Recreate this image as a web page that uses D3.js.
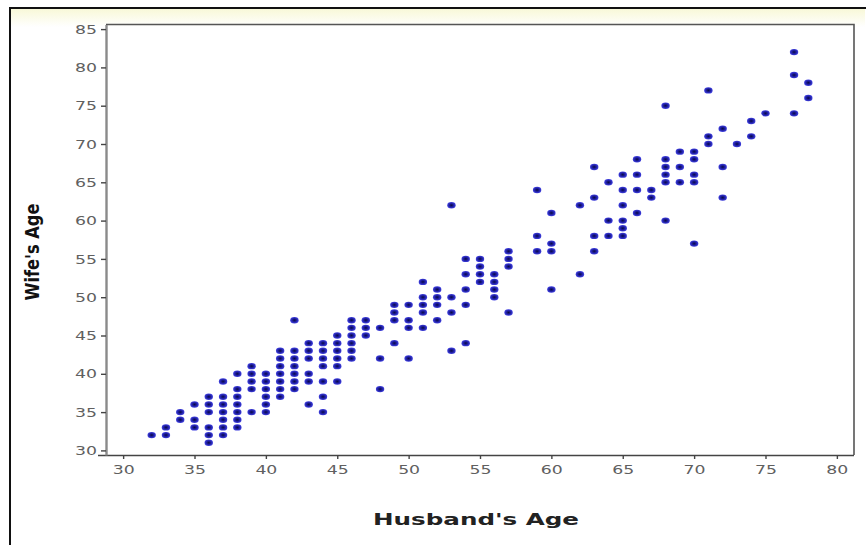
<!DOCTYPE html>
<html>
<head>
<meta charset="utf-8">
<script src="https://cdn.jsdelivr.net/npm/d3@7"></script>
<style>
  html, body { margin: 0; padding: 0; background: #ffffff; }
  svg { display: block; }
</style>
</head>
<body>
<svg id="chart" width="868" height="545"></svg>
<script>
// ---- data ----
const husbandAge = [
  32,
  33, 33,
  34, 34,
  35, 35, 35,
  36, 36, 36, 36, 36, 36,
  37, 37, 37, 37, 37, 37, 37,
  38, 38, 38, 38, 38, 38, 38,
  39, 39, 39, 39, 39,
  40, 40, 40, 40, 40, 40,
  41, 41, 41, 41, 41, 41, 41,
  42, 42, 42, 42, 42, 42, 42,
  43, 43, 43, 43, 43, 43,
  44, 44, 44, 44, 44, 44, 44,
  45, 45, 45, 45, 45, 45,
  46, 46, 46, 46, 46, 46,
  47, 47, 47,
  48, 48, 48,
  49, 49, 49, 49,
  50, 50, 50, 50,
  51, 51, 51, 51, 51,
  52, 52, 52, 52,
  53, 53, 53, 53,
  54, 54, 54, 54, 54,
  55, 55, 55, 55,
  56, 56, 56, 56,
  57, 57, 57, 57,
  59, 59, 59,
  60, 60, 60, 60,
  62, 62,
  63, 63, 63, 63,
  64, 64, 64,
  65, 65, 65, 65, 65, 65,
  66, 66, 66, 66,
  67, 67,
  68, 68, 68, 68, 68, 68,
  69, 69, 69,
  70, 70, 70, 70, 70,
  71, 71, 71,
  72, 72, 72,
  73,
  74, 74,
  75,
  77, 77, 77,
  78, 78
];
const wifeAge = [
  32,
  33, 32,
  35, 34,
  36, 34, 33,
  37, 36, 35, 33, 32, 31,
  39, 37, 36, 35, 34, 33, 32,
  40, 38, 37, 36, 35, 34, 33,
  41, 40, 39, 38, 35,
  40, 39, 38, 37, 36, 35,
  43, 42, 41, 40, 39, 38, 37,
  47, 43, 42, 41, 40, 39, 38,
  44, 43, 42, 40, 39, 36,
  44, 43, 42, 41, 39, 37, 35,
  45, 44, 43, 42, 41, 39,
  47, 46, 45, 44, 43, 42,
  47, 46, 45,
  46, 42, 38,
  49, 48, 47, 44,
  49, 47, 46, 42,
  52, 50, 49, 48, 46,
  51, 50, 49, 47,
  62, 50, 48, 43,
  55, 53, 51, 49, 44,
  55, 54, 53, 52,
  53, 52, 51, 50,
  56, 55, 54, 48,
  64, 58, 56,
  61, 57, 56, 51,
  62, 53,
  67, 63, 58, 56,
  65, 60, 58,
  66, 64, 62, 60, 59, 58,
  68, 66, 64, 61,
  64, 63,
  75, 68, 67, 66, 65, 60,
  69, 67, 65,
  69, 68, 66, 65, 57,
  77, 71, 70,
  72, 67, 63,
  70,
  73, 71,
  74,
  82, 79, 74,
  78, 76
];
const xTicks = [30, 35, 40, 45, 50, 55, 60, 65, 70, 75, 80];
const yTicks = [30, 35, 40, 45, 50, 55, 60, 65, 70, 75, 80, 85];
const xTitle = "Husband's Age";
const yTitle = "Wife's Age";

const points = husbandAge.map((h, i) => ({ h: h, w: wifeAge[i] }));

// ---- layout ----
const svg = d3.select("#chart");
const W = 868, H = 545;
const plot = { left: 106, right: 854, top: 24.5, bottom: 455 };

const x = d3.scaleLinear().domain([28.8, 81.2]).range([plot.left, plot.right]);
const y = d3.scaleLinear().domain([29.4, 85.6]).range([plot.bottom, plot.top]);

const defs = svg.append("defs");
const bandGrad = defs.append("linearGradient").attr("id", "band")
  .attr("x1", 0).attr("y1", 0).attr("x2", 0).attr("y2", 1);
bandGrad.append("stop").attr("offset", "0%").attr("stop-color", "#f8f8d8");
bandGrad.append("stop").attr("offset", "100%").attr("stop-color", "#ffffff");

const dotGrad = defs.append("radialGradient").attr("id", "dot");
dotGrad.append("stop").attr("offset", "0%").attr("stop-color", "#0a0a40");
dotGrad.append("stop").attr("offset", "45%").attr("stop-color", "#1a1a95");
dotGrad.append("stop").attr("offset", "100%").attr("stop-color", "#4040e0");

// background
svg.append("rect").attr("x", 0).attr("y", 0).attr("width", W).attr("height", H).attr("fill", "#ffffff");
svg.append("rect").attr("x", 11).attr("y", 9).attr("width", 854).attr("height", 18).attr("fill", "url(#band)");

// outer frame
svg.append("path")
  .attr("d", `M10,${H + 2} L10,8 L866,8`)
  .attr("fill", "none").attr("stroke", "#111").attr("stroke-width", 2);

// plot area border (top/right)
svg.append("path")
  .attr("d", `M${plot.left},${plot.top} L${plot.right},${plot.top} L${plot.right},${plot.bottom}`)
  .attr("fill", "none").attr("stroke", "#555").attr("stroke-width", 1.6);

// axes
const xAxis = d3.axisBottom(x).tickValues(xTicks).tickSize(4).tickSizeOuter(0).tickPadding(6);
const yAxis = d3.axisLeft(y).tickValues(yTicks).tickSize(5).tickSizeOuter(0).tickPadding(4);

const gx = svg.append("g").attr("transform", `translate(0,${plot.bottom})`).call(xAxis);
const gy = svg.append("g").attr("transform", `translate(${plot.left},0)`).call(yAxis);

gx.select(".domain").attr("stroke", "#444").attr("stroke-width", 1.6)
  .attr("d", `M${plot.left - 8},0.5H${plot.right}`);
gy.select(".domain").attr("stroke", "#8a8a8a").attr("stroke-width", 2.4);

[gx, gy].forEach(g => {
  g.selectAll(".tick line").attr("stroke", "#444").attr("stroke-width", 1.4);
  g.selectAll(".tick text")
    .attr("fill", "#606060")
    .style("font-family", "'DejaVu Sans', Verdana, sans-serif")
    .style("font-size", "13px")
    .attr("textLength", 22)
    .attr("lengthAdjust", "spacingAndGlyphs");
});

// points
svg.append("g").selectAll("ellipse")
  .data(points)
  .join("ellipse")
  .attr("cx", d => x(d.h))
  .attr("cy", d => y(d.w))
  .attr("rx", 4.2)
  .attr("ry", 3.2)
  .attr("fill", "url(#dot)");

// axis titles
svg.append("text")
  .attr("x", 476).attr("y", 525)
  .attr("text-anchor", "middle")
  .attr("fill", "#222")
  .style("font-family", "'DejaVu Sans', Verdana, sans-serif")
  .style("font-weight", "bold")
  .style("font-size", "16px")
  .attr("textLength", 206)
  .attr("lengthAdjust", "spacingAndGlyphs")
  .text(xTitle);

svg.append("text")
  .attr("transform", `translate(39,252) rotate(-90)`)
  .attr("text-anchor", "middle")
  .attr("fill", "#111")
  .style("font-family", "'Liberation Sans Narrow', 'DejaVu Sans Condensed', 'Liberation Sans', sans-serif")
  .style("font-weight", "bold")
  .style("font-size", "20px")
  .attr("textLength", 97)
  .attr("lengthAdjust", "spacingAndGlyphs")
  .text(yTitle);
</script>
</body>
</html>
